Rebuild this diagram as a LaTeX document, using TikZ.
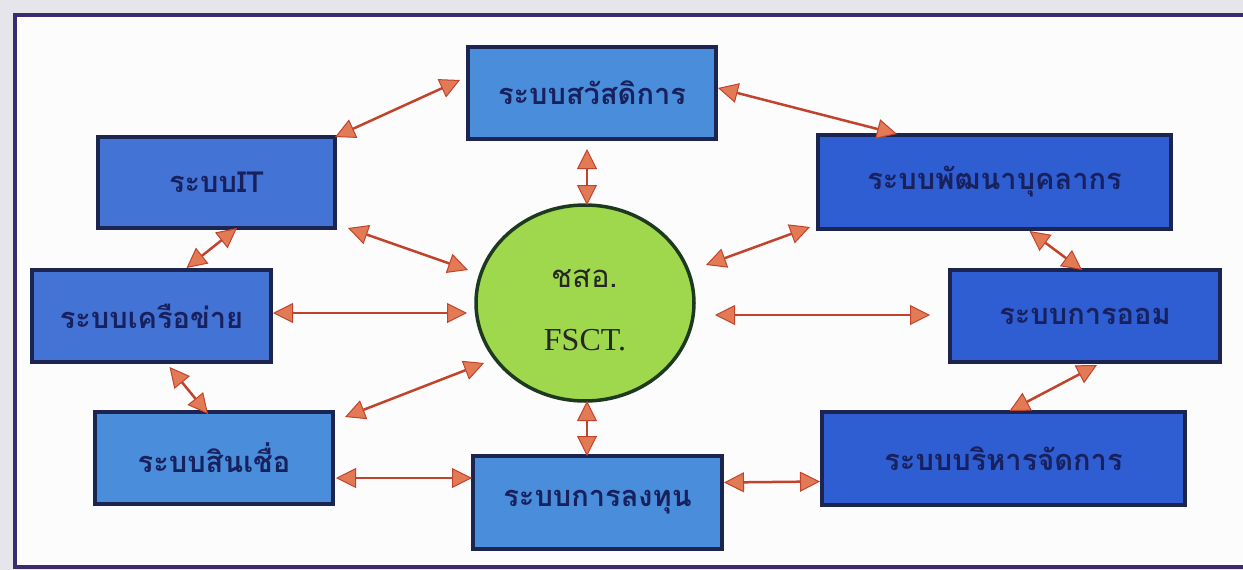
\documentclass[tikz,border=0pt]{standalone}
\usepackage{fontspec}
\newfontfamily\thaifont[Script=Thai]{Loma}
\newfontfamily\serifont{Liberation Serif}
\usetikzlibrary{arrows.meta,calc,shapes.geometric}
\definecolor{framec}{HTML}{3A2C6E}
\definecolor{outerbg}{HTML}{E6E5EB}
\definecolor{innerbg}{HTML}{FCFCFD}
\definecolor{boxline}{HTML}{1B2550}
\definecolor{lightbox}{HTML}{4A8EDB}
\definecolor{midbox}{HTML}{4373D4}
\definecolor{darkbox}{HTML}{2F5ED2}
\definecolor{txtc}{HTML}{18215E}
\definecolor{circfill}{HTML}{9FD84C}
\definecolor{circline}{HTML}{1E3A1E}
\definecolor{arrc}{HTML}{C1432C}
\definecolor{headc}{HTML}{E27A56}
\tikzset{
  sysbox/.style={draw=boxline, line width=4pt, inner sep=0pt, outer sep=0pt,
    text=txtc, font=\thaifont\bfseries\fontsize{29}{34}\selectfont},
  lightsys/.style={sysbox, fill=lightbox},
  midsys/.style={sysbox, fill=midbox},
  darksys/.style={sysbox, fill=darkbox},
  link/.style={draw=arrc, line width=2.5pt,
    {Triangle[length=20pt,width=20pt,fill=headc,line width=1pt]}-{Triangle[length=20pt,width=20pt,fill=headc,line width=1pt]}}
}
\begin{document}
\begin{tikzpicture}[x=1pt,y=-1pt]
\useasboundingbox (0,0) rectangle (1243,570);
\clip (0,0) rectangle (1243,570);
\fill[outerbg] (0,0) rectangle (1243,570);
\fill[innerbg] (15,15) rectangle (1260,567);
\draw[framec, line width=4.5pt] (15,15) rectangle (1260,567);

\node[lightsys, minimum width=248pt, minimum height=92pt] (sw) at (592,93) {ระบบสวัสดิการ};
\node[midsys, minimum width=237pt, minimum height=91pt] (it) at (216.5,182.5) {ระบบIT};
\node[midsys, minimum width=239pt, minimum height=92pt] (net) at (151.5,316) {ระบบเครือข่าย};
\node[lightsys, minimum width=238pt, minimum height=92pt] (cr) at (214,458) {ระบบสินเชื่อ};
\node[lightsys, minimum width=249pt, minimum height=93pt] (inv) at (597.5,502.5) {ระบบการลงทุน};
\node[darksys, minimum width=353pt, minimum height=94pt] (hr) at (994.5,182) {ระบบพัฒนาบุคลากร};
\node[darksys, minimum width=270pt, minimum height=92pt] (sav) at (1085,316) {ระบบการออม};
\node[darksys, minimum width=363pt, minimum height=93pt] (mg) at (1003.5,458.5) {ระบบบริหารจัดการ};

\node[ellipse, draw=circline, line width=3.5pt, fill=circfill,
  minimum width=218pt, minimum height=196pt, inner sep=0pt, outer sep=0pt] (c) at (585,303) {};
\node[font=\thaifont\fontsize{31}{34}\selectfont, text=black!85] (t1) at (585,278) {ชสอ.};
\node[font=\serifont\fontsize{32}{34}\selectfont, text=black!85] (t2) at (585,340) {FSCT.};

\draw[link] (it.north east) -- ($(sw.west)+(-8,-13)$);
\draw[link] ($(sw.east)+(2,-5)$) -- ($(hr.north west)+(79,-1)$);
\draw[link] ($(sw.south)+(-5,10)$) -- ($(c.north)+(2,0)$);
\draw[link] ($(it.south east)+(13,0)$) -- ($(c.center)+(-117,-33)$);
\draw[link] ($(hr.south west)+(-8,-2)$) -- ($(c.center)+(121,-38)$);
\draw[link] ($(it.south)+(20.5,0)$) -- ($(net.north)+(35,-2)$);
\draw[link] ($(net.east)+(2,-3)$) -- ($(c.center)+(-118,10)$);
\draw[link] ($(c.center)+(130,12)$) -- ($(sav.west)+(-20,-1)$);
\draw[link] ($(hr.south)+(35,2)$) -- ($(sav.north)+(-3,0)$);
\draw[link] ($(net.south)+(18,5)$) -- ($(cr.north)+(-6,2)$);
\draw[link] ($(cr.north east)+(12,5)$) -- ($(c.center)+(-101,60)$);
\draw[link] ($(sav.south)+(12,3)$) -- ($(mg.north)+(6,-1)$);
\draw[link] ($(c.south)+(2,0)$) -- ($(inv.north)+(-10.5,0)$);
\draw[link] ($(cr.east)+(3,20)$) -- ($(inv.west)+(-1,-24.5)$);
\draw[link] ($(inv.east)+(2,-20)$) -- ($(mg.west)+(-2,23)$);
\end{tikzpicture}
\end{document}
